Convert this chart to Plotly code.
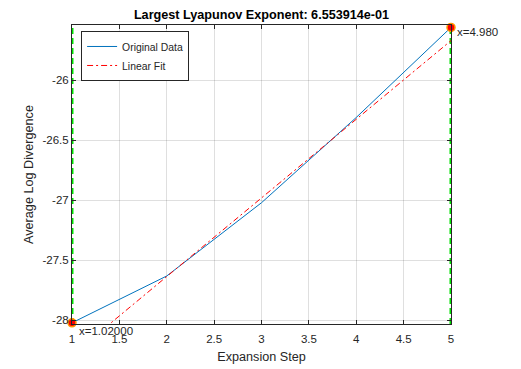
import plotly.graph_objects as go

# values
steps = [1, 2, 3, 4, 5]
avg_log_div = [-28.02, -27.63, -27.02, -26.31, -25.56]
fit_steps = [1, 5]
fit_vals = [-28.29, -25.67]
bound_x = [1, 5]
bound_labels = ['x=1.02000', 'x=4.980']
y_ticks = [-28, -27.5, -27, -26.5, -26]
y_tick_text = ['-28', '-27.5', '-27', '-26.5', '-26']
x_ticks = [1, 1.5, 2, 2.5, 3, 3.5, 4, 4.5, 5]
x_tick_text = ['1', '1.5', '2', '2.5', '3', '3.5', '4', '4.5', '5']
y_range = [-28.03, -25.54]

font = 'Liberation Sans, Arial, Helvetica, sans-serif'
axis_col = '#262626'

fig = go.Figure()

# green dashed boundary lines
for bx in bound_x:
    fig.add_trace(go.Scatter(
        x=[bx, bx], y=y_range, mode='lines', showlegend=False,
        line=dict(color='#00e000', width=3, dash='6px,4px'),
        cliponaxis=False, hoverinfo='skip'
    ))

fig.add_trace(go.Scatter(
    x=steps, y=avg_log_div, mode='lines', name='Original Data',
    line=dict(color='#0072BD', width=1)
))

fig.add_trace(go.Scatter(
    x=fit_steps, y=fit_vals, mode='lines', name='Linear Fit',
    line=dict(color='#ff0000', width=1, dash='6px,3px,2px,3px')
))

# end points
end_y = [avg_log_div[0], avg_log_div[-1]]
fig.add_trace(go.Scatter(
    x=bound_x, y=end_y, mode='markers', showlegend=False,
    marker=dict(color='#ff0000', size=8, line=dict(color='#ff9900', width=1.5)),
    cliponaxis=False
))

fig.add_annotation(x=bound_x[0], y=end_y[0], text=bound_labels[0], showarrow=False,
                   xanchor='left', yanchor='top', xshift=5, yshift=0,
                   font=dict(family=font, size=11.5, color=axis_col))
fig.add_annotation(x=bound_x[1], y=end_y[1], text=bound_labels[1], showarrow=False,
                   xanchor='left', yanchor='top', xshift=4, yshift=3,
                   font=dict(family=font, size=11.5, color=axis_col))

# page body has an 8px margin, so the figure is a bit smaller than the window
fig.update_layout(
    width=513, height=361,
    margin=dict(l=64, r=70, t=17, b=45, autoexpand=False),
    paper_bgcolor='white', plot_bgcolor='white',
    font=dict(family=font, size=11.5, color=axis_col),
    title=dict(text='<b>Largest Lyapunov Exponent: 6.553914e-01</b>',
               x=0.5, xref='paper', xanchor='center',
               y=1 - 6.5 / 361, yref='container', yanchor='middle',
               font=dict(family=font, size=12.65, color='black')),
    legend=dict(x=0.024, y=0.98, xanchor='left', yanchor='top',
                bgcolor='white', bordercolor=axis_col, borderwidth=1,
                font=dict(family=font, size=10.4, color=axis_col)),
    showlegend=True
)

fig.update_xaxes(
    range=[1, 5], tickvals=x_ticks, ticktext=x_tick_text, automargin=False,
    showgrid=True, gridcolor='rgba(38,38,38,0.15)', zeroline=False,
    showline=True, linecolor=axis_col, linewidth=1, mirror='ticks',
    ticks='inside', ticklen=4, tickcolor=axis_col, ticklabelstandoff=4,
    title=dict(text='Expansion Step', font=dict(family=font, size=12.65, color=axis_col), standoff=8)
)
fig.update_yaxes(
    range=y_range, tickvals=y_ticks, ticktext=y_tick_text, automargin=False,
    showgrid=True, gridcolor='rgba(38,38,38,0.15)', zeroline=False,
    showline=True, linecolor=axis_col, linewidth=1, mirror='ticks',
    ticks='inside', ticklen=4, tickcolor=axis_col,
    title=dict(text='Average Log Divergence', font=dict(family=font, size=12.65, color=axis_col), standoff=6)
)

fig.write_html("out.html")
